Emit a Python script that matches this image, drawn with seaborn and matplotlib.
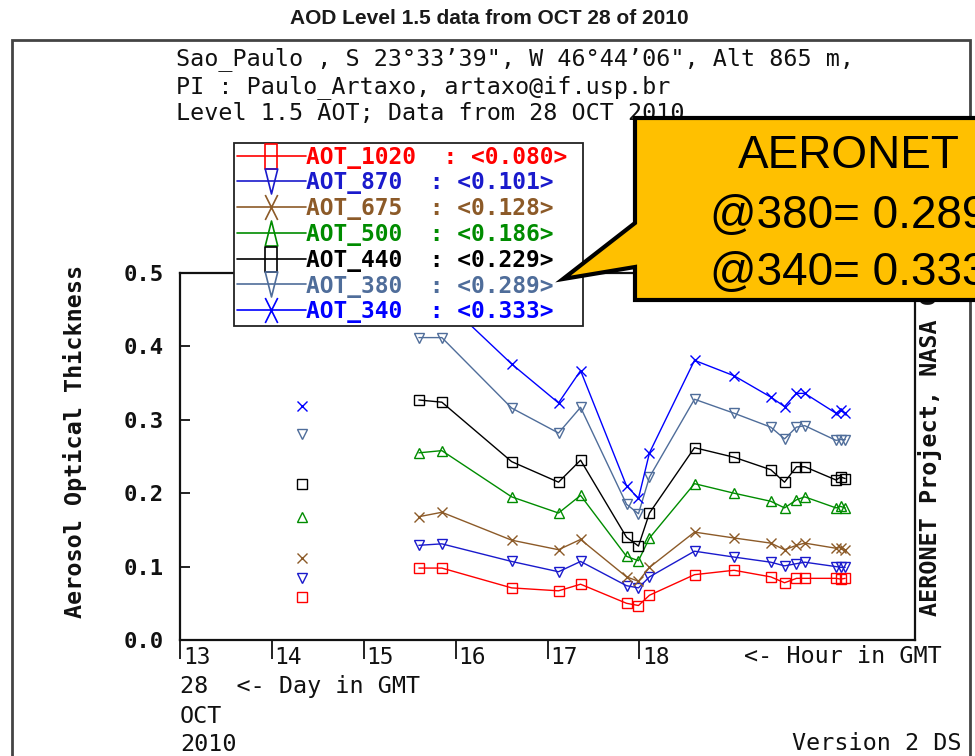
import matplotlib
matplotlib.use("Agg")
import matplotlib.pyplot as plt
import matplotlib.transforms as mtransforms
from matplotlib.lines import Line2D
from matplotlib.patches import Polygon, Rectangle
from matplotlib.path import Path
from matplotlib.font_manager import FontProperties
import seaborn as sns

# ---------------------------------------------------------------- data
# Hour (GMT) of the lone morning observation and of the afternoon run
hour_single = [14.33]
hours = [15.60, 15.85, 16.61, 17.12, 17.36, 17.86, 17.99, 18.11, 18.60,
         19.03, 19.43, 19.58, 19.71, 19.80, 20.14, 20.19, 20.24]

aot_1020_single = [0.059]
aot_1020 = [0.098, 0.098, 0.071, 0.067, 0.076, 0.050, 0.047, 0.061, 0.089,
            0.095, 0.086, 0.078, 0.084, 0.084, 0.084, 0.083, 0.084]
aot_870_single = [0.085]
aot_870 = [0.129, 0.131, 0.107, 0.093, 0.107, 0.074, 0.071, 0.086, 0.121,
           0.113, 0.106, 0.101, 0.104, 0.106, 0.100, 0.099, 0.099]
aot_675_single = [0.112]
aot_675 = [0.168, 0.174, 0.136, 0.123, 0.137, 0.086, 0.080, 0.099, 0.147,
           0.139, 0.132, 0.123, 0.129, 0.132, 0.125, 0.126, 0.123]
aot_500_single = [0.167]
aot_500 = [0.255, 0.258, 0.195, 0.173, 0.197, 0.114, 0.108, 0.139, 0.213,
           0.200, 0.189, 0.180, 0.191, 0.195, 0.180, 0.182, 0.180]
aot_440_single = [0.212]
aot_440 = [0.327, 0.324, 0.243, 0.215, 0.245, 0.140, 0.128, 0.173, 0.262,
           0.249, 0.232, 0.215, 0.236, 0.236, 0.218, 0.222, 0.220]
aot_380_single = [0.281]
aot_380 = [0.412, 0.412, 0.316, 0.282, 0.317, 0.185, 0.172, 0.222, 0.328,
           0.309, 0.290, 0.274, 0.290, 0.292, 0.272, 0.273, 0.273]
aot_340_single = [0.319]
aot_340 = [0.468, 0.466, 0.376, 0.323, 0.367, 0.210, 0.193, 0.255, 0.381,
           0.360, 0.331, 0.318, 0.336, 0.336, 0.309, 0.313, 0.309]

channel_names = ["AOT_1020", "AOT_870", "AOT_675", "AOT_500",
                 "AOT_440", "AOT_380", "AOT_340"]
channel_means = ["0.080", "0.101", "0.128", "0.186", "0.229", "0.289", "0.333"]

hour_ticks = [13, 14, 15, 16, 17, 18]
aot_ticks = [0.0, 0.1, 0.2, 0.3, 0.4, 0.5]

# ---------------------------------------------------------------- styling
sns.set_style("white")
plt.rcParams["font.family"] = ["DejaVu Sans Mono", "DejaVu Sans"]

W, H = 975, 756
fig = plt.figure(figsize=(W / 100, H / 100), dpi=100)


def fx(px):
    return px / W


def fy(py):
    return 1 - py / H


ax = fig.add_axes([fx(180), fy(640), fx(915) - fx(180), fy(273) - fy(640)])

colors = ["#ff0000", "#1a1acc", "#8c5a28", "#008c00",
          "#000000", "#4f6d9a", "#0000ff"]
point_markers = ["s", "v", "x", "^", "s", "v", "x"]

singles = [aot_1020_single, aot_870_single, aot_675_single, aot_500_single,
           aot_440_single, aot_380_single, aot_340_single]
runs = [aot_1020, aot_870, aot_675, aot_500, aot_440, aot_380, aot_340]

for vals_one, vals, col, mk in zip(singles, runs, colors, point_markers):
    style = dict(color=col, marker=mk, markersize=6.5, mfc="none",
                 mec=col, mew=1.0, lw=1.0)
    sns.lineplot(x=hours, y=vals, ax=ax, **style)
    sns.lineplot(x=hour_single, y=vals_one, ax=ax, **style)

ax.set_xlim(13, 21)
ax.set_ylim(0, 0.5)
ax.set_xlabel("")
ax.set_ylabel("")
for sp in ax.spines.values():
    sp.set_color("#111111")
    sp.set_linewidth(1.6)

ax.set_xticks(hour_ticks)
ax.set_xticklabels([str(h) for h in hour_ticks])
ax.set_yticks(aot_ticks)
ax.set_yticklabels([f"{v:.1f}" for v in aot_ticks])
ax.tick_params(axis="x", bottom=True, direction="out", length=14, width=1.3,
               pad=-10, labelsize=16.5, colors="#111111")
ax.tick_params(axis="y", left=True, direction="in", length=7, width=1.3,
               pad=11.5, labelsize=16, colors="#111111")
for lab in ax.get_yticklabels():
    lab.set_fontweight("bold")
shift = mtransforms.ScaledTranslation(2 / 72, 0, fig.dpi_scale_trans)
for lab in ax.get_xticklabels():
    lab.set_horizontalalignment("left")
    lab.set_transform(lab.get_transform() + shift)

# ---------------------------------------------------------------- legend
def tall_path(kind):
    if kind == "s":
        v = [(-0.5, -1), (0.5, -1), (0.5, 1), (-0.5, 1), (-0.5, -1)]
        c = [Path.MOVETO, Path.LINETO, Path.LINETO, Path.LINETO, Path.CLOSEPOLY]
    elif kind == "v":
        v = [(-0.5, 1), (0.5, 1), (0, -1), (-0.5, 1)]
        c = [Path.MOVETO, Path.LINETO, Path.LINETO, Path.CLOSEPOLY]
    elif kind == "^":
        v = [(-0.5, -1), (0.5, -1), (0, 1), (-0.5, -1)]
        c = [Path.MOVETO, Path.LINETO, Path.LINETO, Path.CLOSEPOLY]
    else:
        v = [(-0.5, -1), (0.5, 1), (-0.5, 1), (0.5, -1)]
        c = [Path.MOVETO, Path.LINETO, Path.MOVETO, Path.LINETO]
    return Path(v, c)


handles = [Line2D([], [], color=c, lw=1.2, marker=tall_path(m), markersize=18,
                  mfc="none", mec=c, mew=1.2)
           for c, m in zip(colors, point_markers)]
texts = [f"{n}  : <{m}>".ljust(20) for n, m in zip(channel_names, channel_means)]
leg = ax.legend(handles, texts, loc="upper left",
                bbox_to_anchor=(fx(234), fy(143)), bbox_transform=fig.transFigure,
                borderaxespad=0, borderpad=0.12, handlelength=3.0,
                handletextpad=0.0, labelspacing=0.12, numpoints=1,
                frameon=True, fancybox=False, framealpha=1,
                prop=FontProperties(family="DejaVu Sans Mono", weight="bold",
                                    size=16.5))
leg.get_frame().set_edgecolor("#222222")
leg.get_frame().set_linewidth(1.3)
for t, c in zip(leg.get_texts(), colors):
    t.set_color(c)

# ---------------------------------------------------------------- page text
fig.add_artist(Rectangle((fx(12), -0.05), fx(970) - fx(12), fy(40) + 0.05,
                         transform=fig.transFigure, fill=False,
                         edgecolor="#444444", lw=2, zorder=0.5))

fig.text(fx(489), fy(18), "AOD Level 1.5 data from OCT 28 of 2010",
         ha="center", va="center", fontsize=15, fontweight="bold",
         color="#1a1a1a", family=["Liberation Sans", "DejaVu Sans"])

mono = dict(family=["DejaVu Sans Mono", "DejaVu Sans"], fontsize=16.8,
            color="#111111")
fig.text(fx(176), fy(65), "Sao_Paulo , S 23°33’39\", W 46°44’06\", Alt 865 m,",
         ha="left", va="baseline", **mono)
fig.text(fx(176), fy(93), "PI : Paulo_Artaxo, artaxo@if.usp.br",
         ha="left", va="baseline", **mono)
fig.text(fx(176), fy(120), "Level 1.5 AOT; Data from 28 OCT 2010",
         ha="left", va="baseline", **mono)

fig.text(fx(942), fy(663), "<- Hour in GMT", ha="right", va="baseline", **mono)
fig.text(fx(180), fy(693), "28  <- Day in GMT", ha="left", va="baseline", **mono)
fig.text(fx(180), fy(723), "OCT", ha="left", va="baseline", **mono)
fig.text(fx(180), fy(751), "2010", ha="left", va="baseline", **mono)
fig.text(fx(962), fy(750), "Version 2 DS", ha="right", va="baseline", **mono)

fig.text(fx(75), fy(441), "Aerosol Optical Thickness", rotation=90,
         ha="center", va="center", fontweight="bold", **mono)
fig.text(fx(930), fy(616), "AERONET Project, NASA GSFC", rotation=90,
         ha="center", va="bottom", fontweight="bold", **mono)

# ---------------------------------------------------------------- callout
callout_px = [(635, 118), (1065, 118), (1065, 300), (635, 300),
              (635, 267), (563, 279), (635, 223)]
fig.add_artist(Polygon([(fx(x), fy(y)) for x, y in callout_px], closed=True,
                       transform=fig.transFigure, facecolor="#ffc000",
                       edgecolor="black", lw=3, zorder=10, clip_on=False))
sans = dict(family=["Liberation Sans", "DejaVu Sans"], fontsize=33,
            color="black", ha="center", va="baseline", zorder=11)
fig.text(fx(849), fy(168), "AERONET", **sans)
fig.text(fx(849), fy(228), f"@380= {channel_means[5]}", **sans)
fig.text(fx(849), fy(285), f"@340= {channel_means[6]}", **sans)

fig.savefig("out.png", dpi=100, facecolor="white")
